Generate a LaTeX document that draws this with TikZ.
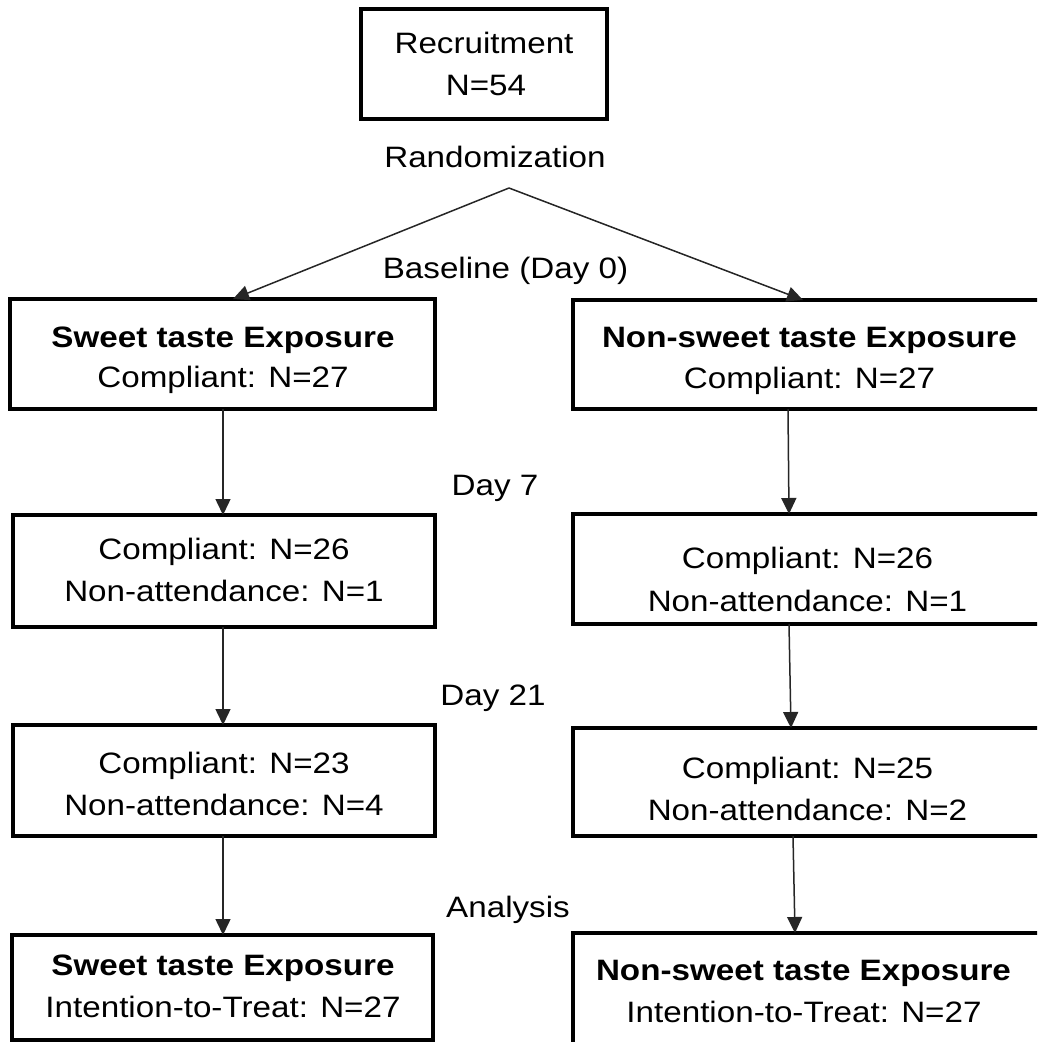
\documentclass[tikz,border=0pt]{standalone}
\usepackage{fontspec}
\setmainfont{Liberation Sans}[FakeStretch=1.125]
\usetikzlibrary{arrows.meta}
\begin{document}
\begin{tikzpicture}[x=1pt,y=-1pt,
  box/.style={draw=black,line width=3.5pt,inner sep=0pt,outer sep=0pt},
  txt/.style={inner sep=0pt,anchor=base,font=\fontsize{29.5}{36}\selectfont},
  arr/.style={draw=black!85,line width=1.5pt,-{Triangle[length=16pt,width=15pt]}}]
\useasboundingbox (0,0) rectangle (1037,1042);
\clip (0,0) rectangle (1037,1042);
\fill[white] (0,0) rectangle (1037,1042);
% boxes
\node[box,minimum width=246,minimum height=110] (rec) at (484,64) {};
\node[box,minimum width=425,minimum height=110] (lb1) at (222.5,354) {};
\node[box,minimum width=422,minimum height=112] (lb2) at (224,571) {};
\node[box,minimum width=422,minimum height=111] (lb3) at (224,780.5) {};
\node[box,minimum width=421,minimum height=105] (lb4) at (222.5,987.5) {};
\node[box,minimum width=472,minimum height=109] (rb1) at (809,354.5) {};
\node[box,minimum width=472,minimum height=110] (rb2) at (809,569) {};
\node[box,minimum width=472,minimum height=108] (rb3) at (809,782) {};
\node[box,minimum width=472,minimum height=120] (rb4) at (809,993) {};
% texts in boxes
\node[txt] (rect1) at (484,53) {Recruitment};
\node[txt] (rect2) at (486,95) {N=54};
\node[txt] (lt1a) at (223,347) {\bfseries Sweet taste Exposure};
\node[txt] (lt1b) at (223,387) {Compliant: N=27};
\node[txt] (lt2a) at (224,559) {Compliant: N=26};
\node[txt] (lt2b) at (224,601) {Non-attendance: N=1};
\node[txt] (lt3a) at (224,773) {Compliant: N=23};
\node[txt] (lt3b) at (224,815) {Non-attendance: N=4};
\node[txt] (lt4a) at (223,975) {\bfseries Sweet taste Exposure};
\node[txt] (lt4b) at (223,1017) {Intention-to-Treat: N=27};
\node[txt] (rt1a) at (809.5,347) {\bfseries Non-sweet taste Exposure};
\node[txt] (rt1b) at (809.5,388) {Compliant: N=27};
\node[txt] (rt2a) at (807.5,568) {Compliant: N=26};
\node[txt] (rt2b) at (807.5,611) {Non-attendance: N=1};
\node[txt] (rt3a) at (807.5,778) {Compliant: N=25};
\node[txt] (rt3b) at (807.5,820) {Non-attendance: N=2};
\node[txt] (rt4a) at (803.5,980) {\bfseries Non-sweet taste Exposure};
\node[txt] (rt4b) at (804,1022) {Intention-to-Treat: N=27};
% stage labels
\node[txt] (rand) at (495,167) {Randomization};
\node[txt] (base) at (505.5,278) {Baseline (Day 0)};
\node[txt] (d7) at (495,495) {Day 7};
\node[txt] (d21) at (493,705) {Day 21};
\node[txt] (ana) at (508,917) {Analysis};
% connectors
\coordinate (apex) at (509,188);
\draw[arr] (apex) -- ([xshift=10.5pt]lb1.north);
\draw[arr] (apex) -- ([xshift=-6pt]rb1.north);
\draw[arr] ([xshift=0.5pt]lb1.south) -- ([xshift=-1pt]lb2.north);
\draw[arr] ([xshift=-1pt]lb2.south) -- ([xshift=-1pt]lb3.north);
\draw[arr] ([xshift=-1pt]lb3.south) -- ([xshift=0.5pt]lb4.north);
\draw[arr] ([xshift=-21pt]rb1.south) -- ([xshift=-20pt]rb2.north);
\draw[arr] ([xshift=-20pt]rb2.south) -- ([xshift=-18pt]rb3.north);
\draw[arr] ([xshift=-16pt]rb3.south) -- ([xshift=-14pt]rb4.north);
\end{tikzpicture}
\end{document}
